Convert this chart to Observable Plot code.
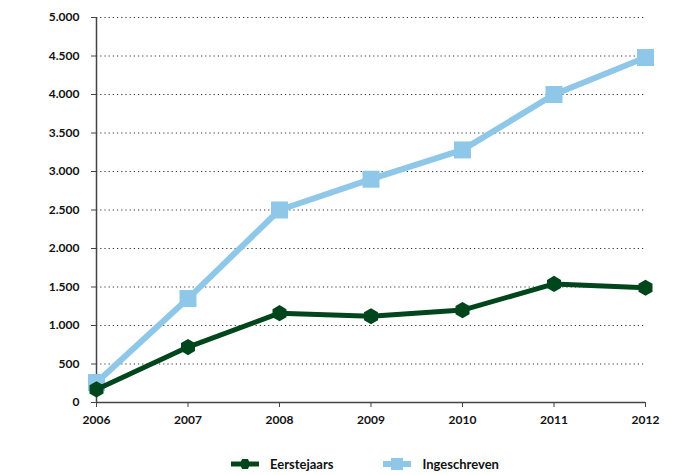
<!DOCTYPE html>
<html>
<head>
<meta charset="utf-8">
<script src="https://cdn.jsdelivr.net/npm/d3@7"></script>
<script src="https://cdn.jsdelivr.net/npm/@observablehq/plot@0.6"></script>
<style>
  body { margin: 0; background: #fff; font-family: Lato, "Open Sans", sans-serif; }
  #chart { width: 689px; }
  .legend { display: flex; justify-content: flex-start; align-items: center; height: 30px; margin-top: 11px; font-size: 13px; font-weight: bold; color: #111; }
  .item { display: flex; align-items: center; }
</style>
</head>
<body>
<div id="chart"></div>
<script>
const years = [2006, 2007, 2008, 2009, 2010, 2011, 2012];
const eerstejaars = [170, 720, 1160, 1120, 1200, 1540, 1490];
const ingeschreven = [260, 1350, 2500, 2900, 3280, 4000, 4480];
const yTicks = [0, 500, 1000, 1500, 2000, 2500, 3000, 3500, 4000, 4500, 5000];
const seriesNames = ["Eerstejaars", "Ingeschreven"];
const colors = ["#00461c", "#8fc7e8"];

const data = [];
years.forEach((y, i) => {
  data.push({year: y, value: eerstejaars[i], series: seriesNames[0]});
  data.push({year: y, value: ingeschreven[i], series: seriesNames[1]});
});
const sE = data.filter(d => d.series === seriesNames[0]);
const sI = data.filter(d => d.series === seriesNames[1]);

const nl = d3.formatLocale({decimal: ",", thousands: ".", grouping: [3], currency: ["€", ""]});
const fmt = nl.format(",");

const plot = Plot.plot({
  width: 689,
  height: 438,
  marginLeft: 96,
  marginRight: 44,
  marginTop: 17,
  marginBottom: 36,
  style: {fontFamily: "Lato, 'Open Sans', sans-serif", fontSize: "12px", fontWeight: "bold", color: "#111", background: "#fff"},
  x: {domain: [2006, 2012], ticks: years, tickFormat: d => String(d), label: null},
  y: {domain: [0, 5000], ticks: yTicks, tickFormat: fmt, label: null},
  marks: [
    Plot.gridY(yTicks.filter(t => t > 0), {stroke: "#333", strokeOpacity: 1, strokeDasharray: "1.2,3", strokeWidth: 1.1}),
    Plot.axisY({ticks: yTicks, tickFormat: fmt, tickSize: 5, tickPadding: 12, stroke: "#444", label: null}),
    Plot.axisX({ticks: years, tickFormat: d => String(d), tickSize: 5, tickPadding: 8, stroke: "#444", label: null}),
    Plot.ruleY([0], {stroke: "#444", strokeWidth: 1.5}),
    Plot.ruleX([2006], {stroke: "#444", strokeWidth: 1.5}),
    Plot.line(sI, {x: "year", y: "value", stroke: colors[1], strokeWidth: 6}),
    Plot.dot(sI, {x: "year", y: "value", symbol: "square", r: 9.6, fill: colors[1], stroke: "none"}),
    Plot.line(sE, {x: "year", y: "value", stroke: colors[0], strokeWidth: 5}),
    Plot.dot(sE, {x: "year", y: "value", symbol: "hexagon", r: 7, fill: colors[0], stroke: "none"})
  ]
});
document.getElementById("chart").appendChild(plot);

const legend = document.createElement("div");
legend.className = "legend";
const makeItem = (name, color, sym, ml) => {
  const item = document.createElement("div");
  item.className = "item";
  item.style.marginLeft = ml + "px";
  const shape = sym === "square"
    ? `<rect x="8" y="3" width="12" height="12" fill="${color}"/>`
    : `<polygon points="9,9 11,4 17,4 19,9 17,14 11,14" fill="${color}"/>`;
  item.innerHTML = `<svg width="28" height="18" style="margin-right:11px"><line x1="0" y1="9" x2="28" y2="9" stroke="${color}" stroke-width="${sym === 'square' ? 6 : 5}"/>${shape}</svg><span>${name}</span>`;
  return item;
};
legend.appendChild(makeItem(seriesNames[0], colors[0], "hexagon", 231));
legend.appendChild(makeItem(seriesNames[1], colors[1], "square", 50));
document.body.appendChild(legend);
</script>
</body>
</html>
